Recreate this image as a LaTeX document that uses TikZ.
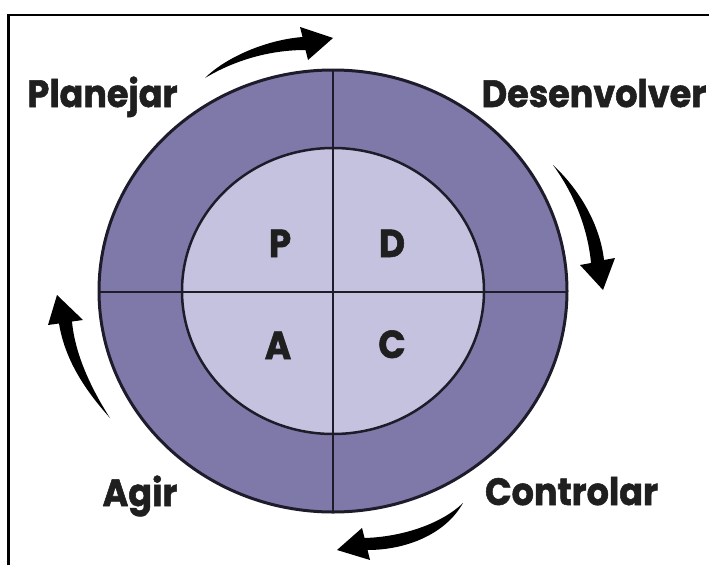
\documentclass[tikz,border=0pt]{standalone}
\usepackage{fontspec}
\usepackage{graphicx}
\setmainfont{Poppins}[BoldFeatures={FakeBold=1.5}]
\definecolor{ringdark}{RGB}{127,121,169}
\definecolor{ringlight}{RGB}{197,194,224}
\definecolor{edgeline}{RGB}{30,28,42}
\newcommand{\narrow}[1]{\scalebox{0.92}[1]{#1}}
\tikzset{
  phase/.style={font=\fontsize{38}{38}\selectfont\bfseries, anchor=base, text=black!88, inner sep=0pt},
  letter/.style={font=\fontsize{39}{39}\selectfont\bfseries, anchor=base, text=black!88, inner sep=0pt},
  turn/.style={fill=black},
}
\begin{document}
\begin{tikzpicture}[x=1pt,y=-1pt]
      \useasboundingbox (0,0) rectangle (709,565); % page size
      \draw[line width=2.5pt] (8.5,565) -- (8.5,15) -- (709,15); % frame
      \fill[ringdark] (333,291) ellipse [x radius=234, y radius=221]; % outer ring
      \fill[ringlight] (333,291) ellipse [x radius=151, y radius=143]; % inner disc
      \begin{scope}
        \clip (333,291) ellipse [x radius=234, y radius=221];
        \draw[edgeline,line width=1.5pt] (333,60) -- (333,520) (90,292) -- (580,292); % quadrants
      \end{scope}
      \draw[edgeline,line width=2.5pt] (333,291) ellipse [x radius=151, y radius=143]; % inner edge
      \draw[edgeline,line width=3pt] (333,291) ellipse [x radius=234, y radius=221]; % outer edge
      \node[letter] (p) at (280,257) {\narrow{P}}; % Plan
      \node[letter] (d) at (392,257) {\narrow{D}}; % Do
      \node[letter] (a) at (278,359) {\narrow{A}}; % Act
      \node[letter] (c) at (392,358) {\narrow{C}}; % Check
      \node[phase] (plan) at (102.5,107) {\narrow{Planejar}}; % top left label
      \node[phase] (desenv) at (594,107) {\narrow{Desenvolver}}; % top right label
      \node[phase] (agir) at (140,506) {\narrow{Agir}}; % bottom left label
      \node[phase] (contr) at (571.5,505) {\narrow{Controlar}}; % bottom right label
      \fill[turn] (205,78) .. controls (225,58) and (265,40) .. (302.5,37) -- (300,27) -- (333,38) -- (308,60) -- (305.5,50) .. controls (270,50) and (235,60) .. (205,78); % top arrow
      \fill[turn] (553,165) .. controls (580,190) and (600,225) .. (604,260) -- (615,258) -- (603,290) -- (580,265) -- (591,263) .. controls (588,230) and (575,195) .. (553,165); % right arrow
      \fill[turn] (463,503) .. controls (440,525) and (400,537) .. (364.5,538) -- (362,528) -- (337,550) -- (370,560) -- (367.5,550) .. controls (405,550) and (445,535) .. (463,503); % bottom arrow
      \fill[turn] (110,418) .. controls (85,390) and (65,360) .. (59,323.5) -- (48,325) -- (57,295) -- (83,320) -- (72,321.5) .. controls (75,355) and (92,390) .. (110,418); % left arrow
   \end{tikzpicture}
\end{document}
